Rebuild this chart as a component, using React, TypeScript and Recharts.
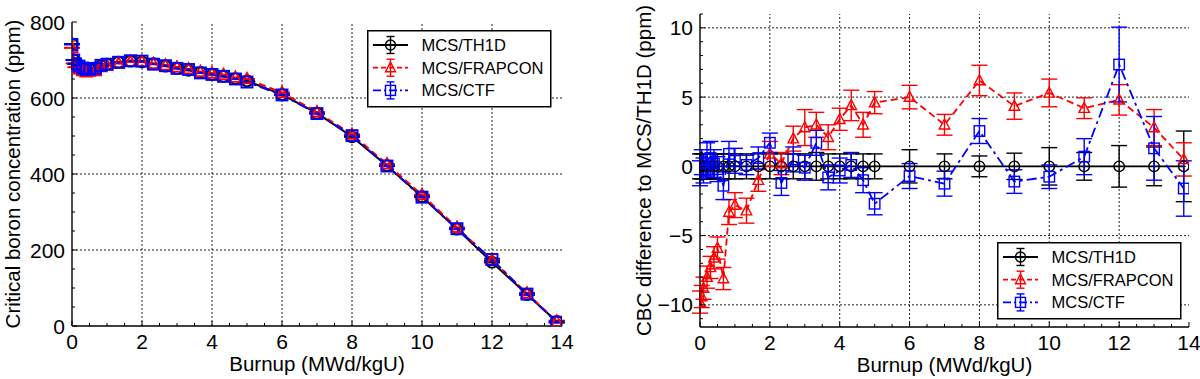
import React from 'react';
import { ComposedChart, Line, XAxis, YAxis, ErrorBar, ReferenceLine } from 'recharts';

// burnup steps (MWd/kgU)
const burnup = [0, 0.05, 0.1, 0.2, 0.3, 0.4, 0.5, 0.67, 0.83, 1.0, 1.33, 1.67, 2.0, 2.33, 2.67, 3.0, 3.33, 3.67, 4.0, 4.33, 4.67, 5.0, 6, 7, 8, 9, 10, 11, 12, 13, 13.85];

// critical boron concentration (ppm)
const cbcTh1d = [742, 700, 690, 684, 678, 675, 676, 679, 685, 689, 694, 697, 695, 690, 684, 678, 673, 667, 662, 657, 651, 645, 609, 560, 498, 422, 340, 255, 168, 83, 12];
const cbcFrapcon = [732, 691, 681, 676, 671, 668, 670, 671, 682, 686, 691, 696, 696, 690, 686, 681, 676, 669, 665, 661, 654, 650, 614, 563, 504, 426, 345, 259, 173, 86, 12];
const cbcCtf = [741, 700, 690, 684, 679, 675, 676, 678, 686, 689, 694, 698, 697, 689, 685, 678, 675, 666, 662, 657, 650, 642, 608, 559, 501, 421, 339, 256, 175, 84, 10];

// CBC difference to MCS/TH1D (ppm)
const diffTh1d = [0, 0, 0, 0, 0, 0, 0, 0, 0, 0, 0, 0, 0, 0, 0, 0, 0, 0, 0, 0, 0, 0, 0, 0, 0, 0, 0, 0, 0, 0, 0];
const diffFrapcon = [-9.8, -9.4, -8.8, -8.0, -7.3, -6.6, -5.9, -8.1, -3.3, -2.8, -3.2, -1.0, 0.9, 0.2, 2.0, 2.8, 3.0, 2.1, 3.4, 4.4, 3.0, 4.6, 5.0, 3.0, 6.2, 4.35, 5.3, 4.2, 4.8, 2.8, 0.5];
const diffCtf = [-0.5, 0.3, -0.3, 0.5, 0.6, 0.2, -0.2, -1.4, 0.9, 0.4, 0.1, 0.6, 1.7, -1.2, 0.5, -0.1, 1.7, -0.8, -0.3, 0.1, -1.0, -2.7, -0.7, -1.25, 2.55, -1.1, -0.75, 0.7, 7.35, 1.3, -1.6];

// statistical uncertainty (ppm)
const errTh1d = [0.9, 0.9, 0.9, 0.9, 0.9, 0.9, 0.9, 0.9, 0.9, 0.9, 0.9, 0.9, 0.9, 0.9, 0.9, 0.9, 1.0, 0.9, 0.9, 0.9, 0.9, 0.9, 1.2, 0.9, 0.75, 0.95, 1.35, 1.0, 1.5, 1.4, 2.55];
const errFrapcon = [0.8, 0.8, 0.8, 0.8, 0.8, 0.8, 0.8, 0.8, 0.9, 0.9, 0.9, 0.8, 0.9, 0.8, 0.9, 1.3, 0.9, 0.9, 0.8, 1.1, 0.9, 0.8, 0.85, 0.75, 1.1, 0.95, 1.0, 0.75, 1.1, 1.3, 1.2];
const errCtf = [0.9, 0.9, 0.9, 1.2, 1.2, 1.0, 0.9, 1.0, 0.9, 0.9, 0.7, 0.8, 0.7, 0.9, 0.9, 0.9, 0.9, 0.9, 0.9, 0.9, 0.9, 0.8, 0.9, 0.9, 0.9, 0.85, 0.85, 1.3, 2.7, 2.3, 2.0];

// ticks
const xTicks = [0, 0.5, 1, 1.5, 2, 2.5, 3, 3.5, 4, 4.5, 5, 5.5, 6, 6.5, 7, 7.5, 8, 8.5, 9, 9.5, 10, 10.5, 11, 11.5, 12, 12.5, 13, 13.5, 14];
const xLabels = [0, 2, 4, 6, 8, 10, 12, 14];
const cbcTicks = [0, 50, 100, 150, 200, 250, 300, 350, 400, 450, 500, 550, 600, 650, 700, 750, 800];
const cbcLabels = [0, 200, 400, 600, 800];
const diffTicks = [-11, -10, -9, -8, -7, -6, -5, -4, -3, -2, -1, 0, 1, 2, 3, 4, 5, 6, 7, 8, 9, 10, 11];
const diffLabels = [-10, -5, 0, 5, 10];

const names = ['MCS/TH1D', 'MCS/FRAPCON', 'MCS/CTF'];

const cbcRows = burnup.map((b, i) => ({
  b, th1d: cbcTh1d[i], frapcon: cbcFrapcon[i], ctf: cbcCtf[i],
  eTh1d: errTh1d[i], eFrapcon: errFrapcon[i], eCtf: errCtf[i],
}));
const diffRows = burnup.map((b, i) => ({
  b, th1d: diffTh1d[i], frapcon: diffFrapcon[i], ctf: diffCtf[i],
  eTh1d: errTh1d[i], eFrapcon: errFrapcon[i], eCtf: errCtf[i],
}));

const FONT = '"Liberation Sans", Arial, sans-serif';
const BLACK = '#000000';
const RED = '#ff0000';
const BLUE = '#0000ff';
const RED_DASH = '7 4';
const BLUE_DASH = '10 4 3 4';

type Shape = 'circle' | 'triangle' | 'square';

function marker(shape: Shape, cx: number, cy: number, s: number, color: string, sw: number, key?: any) {
  const h = s / 2;
  if (shape === 'circle') {
    return <circle key={key} cx={cx} cy={cy} r={h} fill="none" stroke={color} strokeWidth={sw} />;
  }
  if (shape === 'triangle') {
    const pts = `${cx},${cy - h * 1.1} ${cx - h},${cy + h * 0.8} ${cx + h},${cy + h * 0.8}`;
    return <polygon key={key} points={pts} fill="none" stroke={color} strokeWidth={sw} />;
  }
  return <rect key={key} x={cx - h} y={cy - h} width={s} height={s} fill="none" stroke={color} strokeWidth={sw} />;
}

const dotOf = (shape: Shape, color: string, s: number, sw: number) => (p: any) => {
  if (p.cx == null || p.cy == null) return <g key={p.index} />;
  return marker(shape, p.cx, p.cy, s, color, sw, p.index);
};

const fmt = (v: number) => (v < 0 ? '\u2212' + Math.abs(v) : String(v));

function tickOf(side: 'bottom' | 'top' | 'left' | 'right', majors: number[], showLabels: boolean) {
  return (p: any) => {
    const v = p.payload.value;
    const isMajor = majors.includes(v);
    const len = isMajor ? 5 : 3;
    const x = p.x;
    const y = p.y;
    let line;
    if (side === 'bottom') line = <line x1={x} x2={x} y1={y} y2={y - len} stroke={BLACK} />;
    else if (side === 'top') line = <line x1={x} x2={x} y1={y} y2={y + len} stroke={BLACK} />;
    else if (side === 'left') line = <line x1={x} x2={x + len} y1={y} y2={y} stroke={BLACK} />;
    else line = <line x1={x} x2={x - len} y1={y} y2={y} stroke={BLACK} />;
    let label = null;
    if (showLabels && isMajor) {
      if (side === 'bottom') {
        label = <text x={x} y={y + 23} textAnchor="middle" fontSize={21} fill={BLACK}>{fmt(v)}</text>;
      } else if (side === 'left') {
        label = <text x={x - 7} y={y} dy="0.36em" textAnchor="end" fontSize={21} fill={BLACK}>{fmt(v)}</text>;
      }
    }
    return <g>{line}{label}</g>;
  };
}

const XTitle = (p: any) => {
  const vb = p.viewBox || { x: 0, y: 0, width: 0, height: 0 };
  return <text x={vb.x + vb.width / 2} y={vb.y + 45} textAnchor="middle" fontSize={20.5} fill={BLACK}>{p.text}</text>;
};

const YTitle = (p: any) => {
  const vb = p.viewBox || { x: 0, y: 0, width: 0, height: 0 };
  const cy = vb.y + vb.height / 2;
  return (
    <text x={p.cx} y={cy} transform={`rotate(-90 ${p.cx} ${cy})`} textAnchor="middle" fontSize={20.5} fill={BLACK}>
      {p.text}
    </text>
  );
};

const axisLine = { stroke: BLACK, strokeWidth: 1.4 };

function LegendBox({ left, top }: { left: number; top: number }) {
  const styles = [
    { shape: 'circle' as Shape, color: BLACK, dash: undefined },
    { shape: 'triangle' as Shape, color: RED, dash: '5 3' },
    { shape: 'square' as Shape, color: BLUE, dash: '8 3 2 3' },
  ];
  return (
    <svg style={{ position: 'absolute', left, top }} width={185} height={78}>
      <rect x={0.75} y={0.75} width={183} height={76} fill="#fff" stroke={BLACK} strokeWidth={1.5} />
      {styles.map((s, i) => {
        const cy = 15 + i * 22.7;
        return (
          <g key={names[i]}>
            <line x1={6} x2={41} y1={cy} y2={cy} stroke={s.color} strokeWidth={1.8} strokeDasharray={s.dash} />
            <line x1={23.5} x2={23.5} y1={cy - 8.5} y2={cy + 8.5} stroke={s.color} strokeWidth={1.4} />
            <line x1={19.5} x2={27.5} y1={cy - 8.5} y2={cy - 8.5} stroke={s.color} strokeWidth={1.4} />
            <line x1={19.5} x2={27.5} y1={cy + 8.5} y2={cy + 8.5} stroke={s.color} strokeWidth={1.4} />
            {marker(s.shape, 23.5, cy, 10, s.color, 1.4)}
            <text x={54.5} y={cy} dy="0.36em" fontSize={16.5} fill={BLACK} fontFamily={FONT}>{names[i]}</text>
          </g>
        );
      })}
    </svg>
  );
}

function Panel(props: {
  rows: any[];
  yTicks: number[];
  yLabels: number[];
  yDomain: number[];
  yTitle: string;
  yTitleX: number;
  yAxisWidth: number;
  margin: { top: number; right: number; bottom: number; left: number };
  xAxisHeight: number;
  markerSize: number;
  markerStroke: number;
  lineWidth: number;
}) {
  const { rows, yTicks, yLabels, yDomain, markerSize: ms, markerStroke: msw, lineWidth: lw } = props;
  const xGrid = xLabels.filter((v) => v > 0 && v < 14);
  const yGrid = yLabels.filter((v) => v > yDomain[0] && v < yDomain[1]);
  return (
    <ComposedChart width={600} height={379} data={rows} margin={props.margin}>
      <XAxis
        xAxisId="x" type="number" dataKey="b" domain={[0, 14]} allowDataOverflow ticks={xTicks} interval={0}
        tickSize={0} tickMargin={0} tickLine={false} tick={tickOf('bottom', xLabels, true)} axisLine={axisLine}
        height={props.xAxisHeight} label={<XTitle text="Burnup (MWd/kgU)" />}
      />
      <XAxis
        xAxisId="xt" orientation="top" type="number" domain={[0, 14]} allowDataOverflow ticks={xTicks} interval={0}
        tickSize={0} tickMargin={0} tickLine={false} tick={tickOf('top', xLabels, false)} axisLine={axisLine} height={0}
      />
      <YAxis
        yAxisId="y" type="number" domain={yDomain} allowDataOverflow ticks={yTicks} interval={0}
        tickSize={0} tickMargin={0} tickLine={false} tick={tickOf('left', yLabels, true)} axisLine={axisLine}
        width={props.yAxisWidth} label={<YTitle text={props.yTitle} cx={props.yTitleX} />}
      />
      <YAxis
        yAxisId="yr" orientation="right" type="number" domain={yDomain} allowDataOverflow ticks={yTicks} interval={0}
        tickSize={0} tickMargin={0} tickLine={false} tick={tickOf('right', yLabels, false)} axisLine={axisLine} width={0}
      />
      {xGrid.map((v) => (
        <ReferenceLine key={'gx' + v} xAxisId="x" yAxisId="y" x={v} stroke="#222" strokeWidth={1} strokeDasharray="2 2" />
      ))}
      {yGrid.map((v) => (
        <ReferenceLine key={'gy' + v} xAxisId="x" yAxisId="y" y={v} stroke="#222" strokeWidth={1} strokeDasharray="2 2" />
      ))}
      <Line
        xAxisId="x" yAxisId="y" type="linear" dataKey="th1d" name={names[0]} stroke={BLACK} strokeWidth={lw}
        dot={dotOf('circle', BLACK, ms, msw)} activeDot={false} isAnimationActive={false}
      >
        <ErrorBar dataKey="eTh1d" width={8} stroke={BLACK} strokeWidth={1.4} direction="y" />
      </Line>
      <Line
        xAxisId="x" yAxisId="y" type="linear" dataKey="frapcon" name={names[1]} stroke={RED} strokeWidth={lw}
        strokeDasharray={RED_DASH} dot={dotOf('triangle', RED, ms, msw)} activeDot={false} isAnimationActive={false}
      >
        <ErrorBar dataKey="eFrapcon" width={8} stroke={RED} strokeWidth={1.4} direction="y" />
      </Line>
      <Line
        xAxisId="x" yAxisId="y" type="linear" dataKey="ctf" name={names[2]} stroke={BLUE} strokeWidth={lw}
        strokeDasharray={BLUE_DASH} dot={dotOf('square', BLUE, ms, msw)} activeDot={false} isAnimationActive={false}
      >
        <ErrorBar dataKey="eCtf" width={8} stroke={BLUE} strokeWidth={1.4} direction="y" />
      </Line>
    </ComposedChart>
  );
}

export default function App() {
  return (
    <div style={{ position: 'absolute', left: 0, top: 0, width: 1200, height: 379, background: '#fff', fontFamily: FONT }}>
      <div style={{ position: 'absolute', left: 0, top: 0 }}>
        <Panel
          rows={cbcRows} yTicks={cbcTicks} yLabels={cbcLabels} yDomain={[0, 800]}
          yTitle="Critical boron concentration (ppm)" yTitleX={20} yAxisWidth={72}
          margin={{ top: 22, right: 38, bottom: 0, left: 0 }} xAxisHeight={53}
          markerSize={11} markerStroke={1.9} lineWidth={2}
        />
      </div>
      <div style={{ position: 'absolute', left: 600, top: 0 }}>
        <Panel
          rows={diffRows} yTicks={diffTicks} yLabels={diffLabels} yDomain={[-11.6, 11]}
          yTitle="CBC difference to MCS/TH1D (ppm)" yTitleX={51} yAxisWidth={100}
          margin={{ top: 14, right: 11, bottom: 0, left: 0 }} xAxisHeight={52}
          markerSize={10.5} markerStroke={1.4} lineWidth={1.8}
        />
      </div>
      <LegendBox left={367} top={30} />
      <LegendBox left={997} top={242} />
    </div>
  );
}
